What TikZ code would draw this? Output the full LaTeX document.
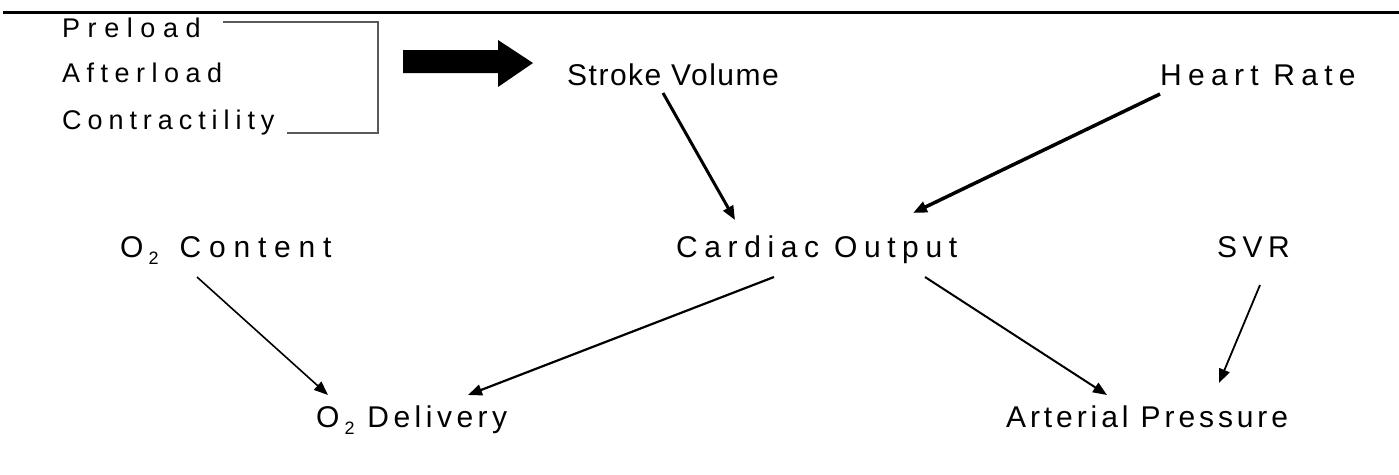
\documentclass[tikz,border=0pt]{standalone}
\usepackage{fontspec}
\setmainfont{Liberation Sans}
\usetikzlibrary{arrows.meta}
\newcommand{\lsp}[1]{\addfontfeature{LetterSpace=#1}}
\tikzset{
  small/.style={anchor=base west, inner sep=0pt, font=\fontsize{27}{27}\selectfont},
  big/.style={anchor=base west, inner sep=0pt, font=\fontsize{30}{30}\selectfont},
  conn/.style={draw=black, -{Triangle[length=14pt,width=11pt]}},
}
\newcommand{\sub}[1]{{\fontsize{18}{18}\selectfont\raisebox{-7pt}{#1}}}
\begin{document}
\begin{tikzpicture}[x=1pt,y=-1pt]
\useasboundingbox (0,0) rectangle (1399,474);
\draw[line width=3pt] (3,12.5) -- (1399,12.5);
% left labels
\node[small] (pre) at (62,37) {\lsp{28}Preload};
\node[small] (aft) at (62,82) {\lsp{24}Afterload};
\node[small] (con) at (62,129) {\lsp{22}Contractility};
\draw[gray!70!black, line width=1.2pt] (223,22) -| (378,133) -- (287,133);
% big arrow
\fill (403,50) -- (498,50) -- (498,40) -- (533,63) -- (498,87) -- (498,73) -- (403,73) -- cycle;
% main labels
\node[big] (sv) at (567,85) {\lsp{5}Stroke Volume};
\node[big] (hr) at (1160,85) {\lsp{21}Heart Rate};
\node[big] (o2c) at (120,257) {\lsp{26}O\,\sub{2}\, Content};
\node[big] (co) at (676,257) {\lsp{22}Cardiac Output};
\node[big] (svr) at (1217,257) {\lsp{18}SVR};
\node[big] (o2d) at (316,427) {\lsp{15}O\,\sub{2} Delivery};
\node[big] (ap) at (1006,427) {\lsp{13}Arterial Pressure};
% connector endpoints
\coordinate (sv-s) at (663,93);
\coordinate (co-nw) at (735,220);
\coordinate (hr-s) at (1160,94);
\coordinate (co-ne) at (913,213);
\coordinate (co-sw) at (774,277);
\coordinate (o2d-ne) at (468,395);
\coordinate (co-se) at (925,277);
\coordinate (ap-nw) at (1107,395);
\coordinate (o2c-s) at (197,277);
\coordinate (o2d-nw) at (328,395);
\coordinate (svr-s) at (1260,285);
\coordinate (ap-ne) at (1219,383);
\draw[conn, line width=3pt] (sv-s) -- (co-nw);
\draw[conn, line width=3.5pt] (hr-s) -- (co-ne);
\draw[conn, line width=2.2pt] (co-sw) -- (o2d-ne);
\draw[conn, line width=2pt] (co-se) -- (ap-nw);
\draw[conn, line width=1.6pt] (o2c-s) -- (o2d-nw);
\draw[conn, line width=1.8pt] (svr-s) -- (ap-ne);
\end{tikzpicture}
\end{document}
